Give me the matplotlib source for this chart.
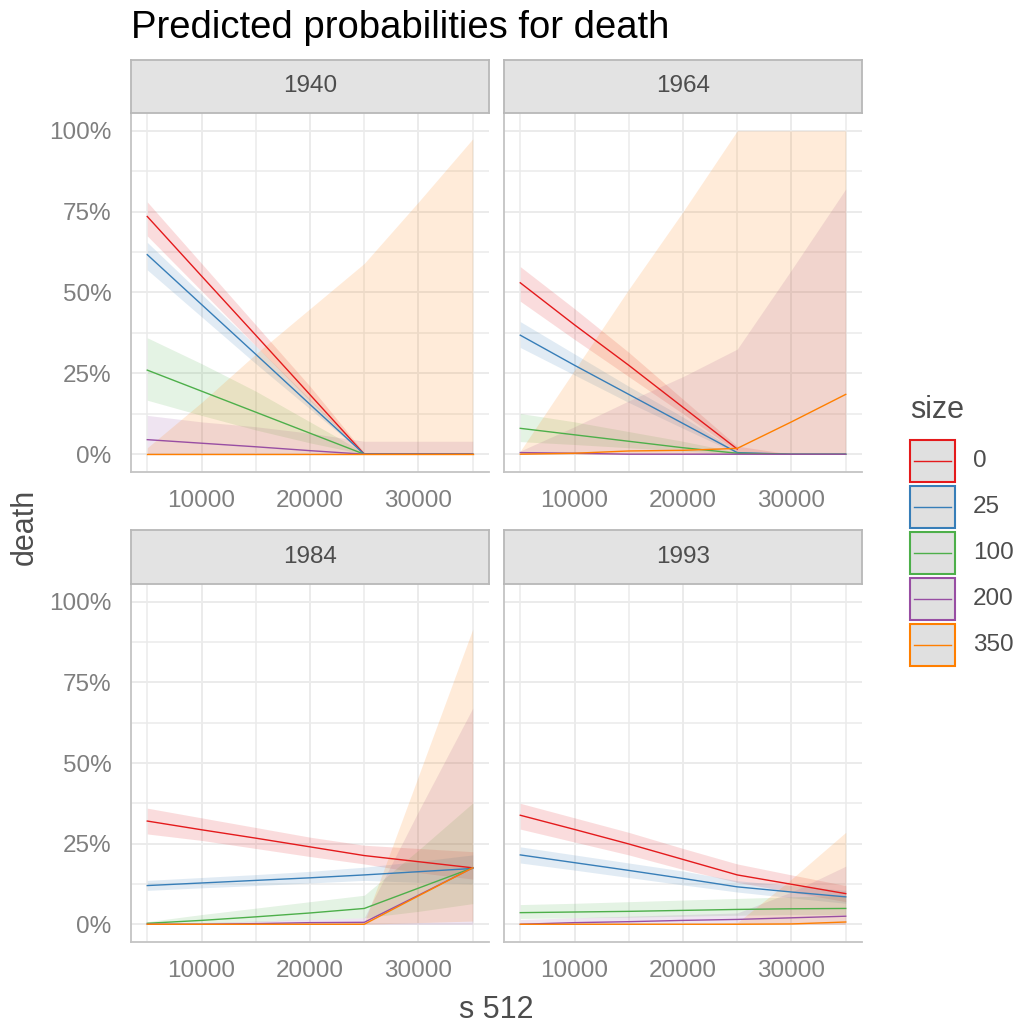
import numpy as np
import matplotlib
matplotlib.use('Agg')
import matplotlib.pyplot as plt
from matplotlib.patches import Rectangle
from matplotlib.lines import Line2D
from matplotlib.ticker import FuncFormatter, FixedLocator

plt.rcParams['font.family'] = ['Liberation Sans', 'DejaVu Sans']

# ---------------- data ----------------
x_vals = [5000, 10000, 15000, 20000, 25000, 30000, 35000]
years = ['1940', '1964', '1984', '1993']
sizes = ['0', '25', '100', '200', '350']
colors = ['#E41A1C', '#377EB8', '#4DAF4A', '#984EA3', '#FF7F00']
x_ticks = [10000, 20000, 30000]
y_ticks = [0, 25, 50, 75, 100]
nan = float('nan')

# predicted probability (%) per size (rows: 0, 25, 100, 200, 350)
pred_1940 = [[73.5, 55.1, 36.8, 18.4, 0.0, 0.0, 0.0],
             [61.7, 46.3, 30.9, 15.4, 0.0, 0.0, 0.0],
             [26.0, 19.5, 13.0, 6.5, 0.0, 0.0, 0.0],
             [4.5, 3.4, 2.3, 1.1, 0.0, 0.0, 0.0],
             [0.0, 0.0, 0.0, 0.0, 0.0, 0.0, 0.0]]
lo_1940 = [[67.5, 50.5, 33.5, 16.5, 0.0, 0.0, 0.0],
           [57.0, 42.5, 28.0, 14.0, 0.0, 0.0, 0.0],
           [16.7, 12.0, 7.5, 3.5, 0.0, 0.0, 0.0],
           [0.0, 0.0, 0.0, 0.0, 0.0, 0.0, 0.0],
           [0.0, 0.0, 0.0, 0.0, 0.0, 0.0, 0.0]]
hi_1940 = [[78.0, 59.0, 40.0, 21.0, 0.5, 0.0, 0.0],
           [65.5, 49.5, 33.5, 17.0, 0.5, 0.0, 0.0],
           [36.0, 28.0, 19.5, 10.0, 0.5, 0.0, 0.0],
           [12.0, 10.0, 8.5, 6.5, 4.0, 4.0, 4.0],
           [2.0, 16.0, 31.0, 45.0, 59.0, 78.0, 97.5]]

pred_1964 = [[53.0, 40.0, 27.5, 14.5, 1.6, nan, nan],
             [36.8, 27.5, 18.5, 9.5, 0.5, 0.0, 0.0],
             [8.0, 6.0, 4.0, 2.0, 0.3, 0.0, 0.0],
             [0.5, 0.3, 0.0, 0.0, 0.0, 0.0, 0.0],
             [0.0, 0.3, 1.0, 1.2, 1.8, 10.0, 18.5]]
lo_1964 = [[47.3, 35.5, 24.0, 12.5, 0.8, 0.0, 0.0],
           [33.0, 24.5, 16.0, 8.0, 0.2, 0.0, 0.0],
           [3.9, 3.0, 2.0, 1.0, 0.0, 0.0, 0.0],
           [0.0, 0.0, 0.0, 0.0, 0.0, 0.0, 0.0],
           [0.0, 0.0, 0.0, 0.0, 0.0, 0.0, 0.0]]
hi_1964 = [[58.0, 45.0, 31.5, 17.0, 2.5, 0.0, 0.0],
           [41.0, 31.0, 21.0, 11.5, 0.8, 0.0, 0.0],
           [12.6, 10.0, 7.0, 4.0, 0.6, 0.0, 0.0],
           [1.0, 8.5, 16.5, 24.0, 32.5, 57.0, 82.0],
           [1.0, 26.0, 51.0, 75.0, 100.0, 100.0, 100.0]]

pred_1984 = [[32.0, 29.3, 26.7, 24.0, 21.3, 19.4, 17.5],
             [12.0, 12.8, 13.6, 14.4, 15.3, 16.3, 17.3],
             [0.3, 1.2, 2.3, 3.5, 4.9, 11.2, 17.5],
             [0.0, 0.0, 0.2, 0.5, 0.6, 9.0, 17.5],
             [0.0, 0.0, 0.0, 0.0, 0.0, 8.8, 17.5]]
lo_1984 = [[28.0, 26.0, 23.5, 21.0, 18.7, 16.0, 14.0],
           [10.5, 11.3, 12.0, 12.8, 13.6, 13.0, 12.5],
           [0.0, 0.3, 0.8, 1.5, 2.0, 4.0, 6.4],
           [0.0, 0.0, 0.0, 0.0, 0.0, 0.0, 0.0],
           [0.0, 0.0, 0.0, 0.0, 0.0, 0.5, 1.0]]
hi_1984 = [[36.0, 33.0, 30.0, 27.0, 24.5, 23.5, 22.5],
           [13.6, 14.5, 15.4, 16.4, 17.7, 19.5, 21.5],
           [0.8, 3.0, 5.0, 7.0, 9.0, 23.0, 37.6],
           [0.2, 0.5, 1.0, 1.5, 2.0, 35.0, 67.0],
           [0.0, 0.0, 0.0, 0.0, 0.5, 46.0, 91.5]]

pred_1993 = [[33.8, 29.4, 24.9, 20.1, 15.3, 12.4, 9.5],
             [21.5, 19.1, 16.7, 14.2, 11.6, 10.0, 8.5],
             [3.6, 3.8, 4.0, 4.3, 4.6, 4.8, 4.9],
             [0.0, 0.5, 0.8, 1.2, 1.5, 2.0, 2.5],
             [0.0, 0.0, 0.0, 0.0, 0.0, 0.1, 0.7]]
lo_1993 = [[29.5, 25.5, 21.5, 17.0, 13.0, 10.0, 7.0],
           [19.0, 16.8, 14.5, 12.2, 10.0, 8.2, 6.5],
           [1.8, 2.0, 2.2, 2.5, 2.8, 3.0, 3.0],
           [0.0, 0.0, 0.0, 0.0, 0.0, 0.0, 0.0],
           [0.0, 0.0, 0.0, 0.0, 0.0, 0.0, 0.0]]
hi_1993 = [[37.5, 33.0, 28.5, 23.5, 18.7, 15.3, 12.0],
           [24.0, 21.5, 19.0, 16.5, 13.5, 12.0, 10.5],
           [6.1, 6.5, 7.0, 7.5, 8.0, 8.5, 9.0],
           [1.5, 2.0, 2.5, 3.0, 3.5, 10.0, 18.0],
           [0.0, 0.0, 0.0, 0.0, 0.5, 14.0, 28.5]]

preds = [pred_1940, pred_1964, pred_1984, pred_1993]
los = [lo_1940, lo_1964, lo_1984, lo_1993]
his = [hi_1940, hi_1964, hi_1984, hi_1993]

# ---------------- layout ----------------
W, H = 1019, 1028
fig = plt.figure(figsize=(W / 100, H / 100), dpi=100)
fig.patch.set_facecolor('white')


def rect(x0, y0, x1, y1):
    return [x0 / W, 1 - y1 / H, (x1 - x0) / W, (y1 - y0) / H]


col_x = [(131, 489), (504, 862)]
row_y = [(113, 472), (584, 942)]
strip_y = [(60, 113), (530, 584)]

tick_col = '#7F7F7F'
grid_col = '#EBEBEB'

for k, year in enumerate(years):
    r, c = divmod(k, 2)
    x0, x1 = col_x[c]
    y0, y1 = row_y[r]
    ax = fig.add_axes(rect(x0, y0, x1, y1))
    ax.set_facecolor('white')
    xv = np.array(x_vals)
    for i in range(len(sizes)):
        ax.fill_between(xv, los[k][i], his[k][i], color=colors[i], alpha=0.15,
                        linewidth=0, zorder=2)
    for i in range(len(sizes)):
        ax.plot(xv, preds[k][i], color=colors[i], linewidth=1.0, zorder=3)
    ax.set_xlim(3500, 36500)
    ax.set_ylim(-5.5, 105.5)
    ax.xaxis.set_major_locator(FixedLocator(x_ticks))
    ax.xaxis.set_minor_locator(FixedLocator([5000, 15000, 25000, 35000]))
    ax.yaxis.set_major_locator(FixedLocator(y_ticks))
    ax.yaxis.set_minor_locator(FixedLocator([12.5, 37.5, 62.5, 87.5]))
    ax.yaxis.set_major_formatter(FuncFormatter(lambda v, p: f'{int(round(v))}%'))
    ax.grid(True, which='major', color=grid_col, linewidth=1.4, zorder=0)
    ax.grid(True, which='minor', color=grid_col, linewidth=1.1, zorder=0)
    ax.set_axisbelow(True)
    ax.tick_params(which='both', length=0, labelsize=17.5, labelcolor=tick_col)
    ax.tick_params(axis='x', pad=13)
    ax.tick_params(axis='y', pad=14)
    if c == 1:
        ax.tick_params(axis='y', labelleft=False)
    for s in ['top', 'right']:
        ax.spines[s].set_visible(False)
    for s in ['left', 'bottom']:
        ax.spines[s].set_color('#C4C4C4')
        ax.spines[s].set_linewidth(1.3)

    sy0, sy1 = strip_y[r]
    sax = fig.add_axes(rect(x0, sy0, x1, sy1))
    sax.set_facecolor('#E3E3E3')
    sax.set_xticks([])
    sax.set_yticks([])
    for s in sax.spines.values():
        s.set_color('#B8B8B8')
        s.set_linewidth(1.3)
    sax.text(0.5, 0.5, year, transform=sax.transAxes, ha='center', va='center',
             fontsize=17.5, color='#4D4D4D')

# titles
fig.text(131 / W, 1 - 38 / H, 'Predicted probabilities for death', fontsize=27.5,
         ha='left', va='baseline', color='black')
fig.text(25 / W, 1 - 527 / H, 'death', rotation=90, fontsize=22,
         ha='center', va='center', color='#4D4D4D')
fig.text(496 / W, 1 - 1010 / H, 's 512', fontsize=22,
         ha='center', va='center', color='#4D4D4D')

# legend
fig.text(910 / W, 1 - 410 / H, 'size', fontsize=22, ha='left', va='center',
         color='#4D4D4D')
for i, (lab, col) in enumerate(zip(sizes, colors)):
    top = 440 + 46 * i
    bx = Rectangle((910 / W, 1 - (top + 42) / H), 45 / W, 42 / H,
                   transform=fig.transFigure, facecolor='#E0E0E0',
                   edgecolor=col, linewidth=1.5)
    fig.patches.append(bx)
    yc = 1 - (top + 21) / H
    fig.lines.append(Line2D([914 / W, 951 / W], [yc, yc], transform=fig.transFigure,
                            color=col, linewidth=1.0))
    fig.text(973 / W, yc, lab, fontsize=17.5, ha='left', va='center', color='#4D4D4D')

fig.savefig('out.png', dpi=100)
